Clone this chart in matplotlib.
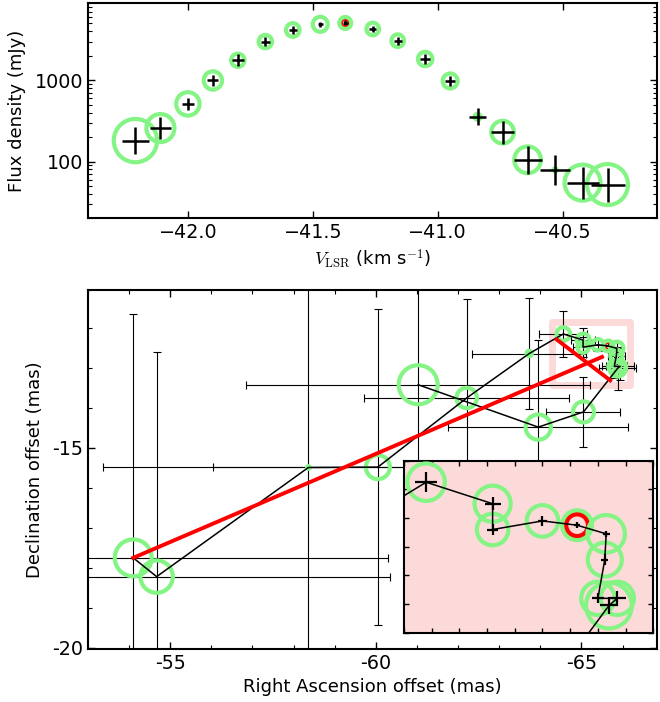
import matplotlib
matplotlib.use("Agg")
import matplotlib.pyplot as plt
from matplotlib.ticker import MultipleLocator, FuncFormatter, LogLocator, NullFormatter
from matplotlib.patches import Rectangle

# ---- maser spot data (19 velocity channels) ----
vel = [-42.21, -42.11, -42.00, -41.90, -41.80, -41.69, -41.58, -41.47, -41.37, -41.26,
       -41.16, -41.05, -40.95, -40.84, -40.74, -40.64, -40.53, -40.42, -40.32]
flux = [181, 258, 512, 995, 1762, 2992, 4155, 4882, 5070, 4275,
        3070, 1829, 980, 355, 230, 105, 79, 55, 52]
# ring diameter (points) used to mark each spot in the spectrum
ring_size = [31.2, 20.2, 16.8, 13.2, 9.6, 9.6, 9.8, 10.8, 8.6, 9.1,
             9.1, 10.4, 10.8, 4.3, 16.3, 19.2, 2.2, 25.9, 29.5]
# cross size (points) drawn at each spectral point
cross_size = [19.4, 15.4, 8.4, 8.0, 8.4, 6.2, 5.5, 3.9, 3.6, 5.0,
              5.5, 7.2, 7.6, 12.0, 16.6, 20.2, 22.0, 23.0, 24.5]
ref_spot = 8  # brightest channel, used as reference

# positions (mas) and absolute position errors
ra = [-61.03, -63.95, -65.05, -65.88, -65.94, -65.80, -65.85, -65.86, -65.65, -65.40,
      -65.04, -65.04, -64.56, -63.73, -62.21, -60.05, -58.36, -54.67, -54.10]
dec = [-13.42, -14.48, -14.10, -13.01, -12.96, -12.96, -12.69, -12.51, -12.45, -12.42,
       -12.48, -12.30, -12.15, -12.64, -13.75, -15.48, -15.49, -18.22, -17.75]
ra_err = [4.19, 2.19, 0.90, 0.45, 0.35, 0.30, 0.20, 0.15, 0.12, 0.15,
          0.25, 0.30, 0.58, 1.38, 2.49, 4.00, 5.00, 5.68, 6.20]
dec_err = [4.19, 2.17, 0.88, 0.53, 0.35, 0.30, 0.20, 0.15, 0.12, 0.15,
           0.25, 0.31, 0.58, 1.38, 2.48, 3.95, 5.00, 5.62, 6.10]

# relative position errors of the compact group (channels 4-13)
group = slice(3, 13)
rel_ra_err = [0.067, 0.060, 0.042, 0.024, 0.024, 0.024, 0.030, 0.042, 0.057, 0.078]
rel_dec_err = [0.058, 0.052, 0.035, 0.038, 0.023, 0.020, 0.033, 0.041, 0.047, 0.070]

# fitted directions
fit1_ra, fit1_dec = [-54.10, -65.50], [-17.75, -12.725]
fit2_ra, fit2_dec = [-64.40, -65.70], [-12.29, -13.31]

# zoom region
zoom_ra = (-64.4, -66.2)
zoom_dec = (-13.2, -12.0)
box_ra = (-64.28, -66.17)
box_dec = (-13.43, -11.85)

GREEN = "#84f484"
PINK = "#fddada"

plt.rcParams.update({
    "font.family": "DejaVu Sans",
    "mathtext.fontset": "cm",
    "axes.linewidth": 1.5,
    "xtick.direction": "in", "ytick.direction": "in",
    "xtick.top": True, "ytick.right": True,
    "xtick.major.size": 5, "ytick.major.size": 5,
    "xtick.minor.size": 3, "ytick.minor.size": 3,
    "xtick.major.width": 1.0, "ytick.major.width": 1.0,
    "xtick.minor.width": 0.8, "ytick.minor.width": 0.8,
    "xtick.labelsize": 13.8, "ytick.labelsize": 13.8,
    "axes.labelsize": 13,
})

fig = plt.figure(figsize=(6.6, 7.02), dpi=100)

# ---------------- spectrum ----------------
ax1 = fig.add_axes([0.1333, 0.689, 0.8629, 0.3071])
ax1.scatter(vel, flux, s=[d ** 2 for d in ring_size], facecolors="none",
            edgecolors=GREEN, linewidths=3, zorder=3)
ax1.scatter([vel[ref_spot]], [flux[ref_spot]], s=(0.75 * ring_size[ref_spot]) ** 2,
            facecolors="none", edgecolors="red", linewidths=3, zorder=2)
ax1.scatter(vel, flux, s=[c ** 2 for c in cross_size], marker="+", c="black",
            linewidths=1.8, zorder=4)
ax1.set_yscale("log")
ax1.set_xlim(-42.4, -40.12)
ax1.set_ylim(20, 9000)
ax1.xaxis.set_major_locator(MultipleLocator(0.5))
ax1.xaxis.set_major_formatter(FuncFormatter(lambda v, _: f"{v:.1f}".replace("-", "\u2212")))
ax1.yaxis.set_major_locator(LogLocator(base=10, numticks=10))
ax1.yaxis.set_minor_locator(LogLocator(base=10, subs=range(2, 10), numticks=20))
ax1.yaxis.set_minor_formatter(NullFormatter())
ax1.yaxis.set_major_formatter(FuncFormatter(lambda v, _: f"{v:.0f}"))
ax1.set_xlabel(r"$V_{\mathrm{LSR}}$ (km s$^{-1}$)", labelpad=4)
ax1.set_ylabel("Flux density (mJy)", labelpad=6)

# ---------------- spot map ----------------
ax2 = fig.add_axes([0.1333, 0.0755, 0.8629, 0.5114])
ax2.add_patch(Rectangle((box_ra[0], box_dec[0]), box_ra[1] - box_ra[0], box_dec[1] - box_dec[0],
                        facecolor="none", edgecolor=PINK, linewidth=5, joinstyle="round",
                        zorder=0.5))
ax2.errorbar(ra, dec, xerr=ra_err, yerr=dec_err, fmt="none", ecolor="black",
             elinewidth=0.8, capsize=3.2, capthick=0.8, zorder=1)
ax2.scatter(ra, dec, s=[(0.9 * d) ** 2 for d in ring_size], facecolors="none",
            edgecolors=GREEN, linewidths=3, zorder=2.5)
ax2.scatter([ra[ref_spot]], [dec[ref_spot]], s=(0.9 * 0.75 * ring_size[ref_spot]) ** 2,
            facecolors="none", edgecolors="red", linewidths=3, zorder=2.4)
ax2.plot(ra, dec, color="black", linewidth=1.1, zorder=3)
ax2.plot(fit1_ra, fit1_dec, color="red", linewidth=2.8, zorder=3.5)
ax2.plot(fit2_ra, fit2_dec, color="red", linewidth=2.8, zorder=3.5)
ax2.set_xlim(-53.0, -66.85)
ax2.set_ylim(-20.03, -11.05)
ax2.xaxis.set_major_locator(MultipleLocator(5))
ax2.xaxis.set_minor_locator(MultipleLocator(1))
ax2.yaxis.set_major_locator(MultipleLocator(5))
ax2.yaxis.set_minor_locator(MultipleLocator(1))
int_fmt = FuncFormatter(lambda v, _: f"{v:.0f}")
ax2.xaxis.set_major_formatter(int_fmt)
ax2.yaxis.set_major_formatter(int_fmt)
ax2.set_xlabel("Right Ascension offset (mas)", labelpad=4)
ax2.set_ylabel("Declination offset (mas)", labelpad=6)

# ---------------- zoomed group ----------------
ax3 = fig.add_axes([0.6121, 0.0987, 0.3777, 0.2450])
ax3.set_facecolor(PINK)
for s in ax3.spines.values():
    s.set_linewidth(1.5)
g_ra, g_dec, g_size = ra[group], dec[group], ring_size[group]
ax3.scatter([ra[ref_spot]], [dec[ref_spot]], s=(2.5 * 0.75 * ring_size[ref_spot]) ** 2,
            facecolors="none", edgecolors="red", linewidths=3.5, zorder=2)
ax3.scatter(ra, dec, s=[(2.5 * d) ** 2 for d in ring_size], facecolors="none",
            edgecolors=GREEN, linewidths=3, zorder=3)
ax3.plot(ra, dec, color="black", linewidth=1.1, zorder=4)
ax3.errorbar(g_ra, g_dec, xerr=rel_ra_err, yerr=rel_dec_err, fmt="none",
             ecolor="black", elinewidth=1.6, capsize=0, zorder=5)
ax3.set_xlim(*zoom_ra)
ax3.set_ylim(*zoom_dec)
ax3.xaxis.set_major_locator(MultipleLocator(0.2))
ax3.yaxis.set_major_locator(MultipleLocator(0.2))
ax3.tick_params(which="both", labelbottom=False, labelleft=False, length=3.5)

fig.savefig("out.png", dpi=100)
